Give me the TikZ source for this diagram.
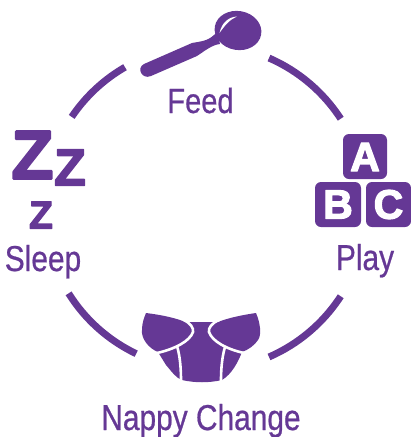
\documentclass[tikz,border=0pt]{standalone}
\usepackage{fontspec}
\setmainfont{Liberation Sans}
\newfontfamily\labelfont[FakeStretch=0.83,FakeBold=0.6]{Liberation Sans}
\newfontfamily\iconfont[FakeBold=3]{Liberation Sans Bold}
\usetikzlibrary{positioning}
\definecolor{nappypurple}{HTML}{653895}
\tikzset{
  steplabel/.style={font=\labelfont\fontsize{36}{36}\selectfont, text=nappypurple, anchor=base, inner sep=0pt},
  ringarc/.style={draw=nappypurple, line width=7pt},
  blockbox/.style={fill=nappypurple, rounded corners=6pt},
  blockletter/.style={text=white, inner sep=0pt, font=\iconfont\fontsize{41}{41}\selectfont},
  sleepletter/.style={text=nappypurple, inner sep=0pt},
  nappyseam/.style={draw=white, line width=2.6pt}
}
\newcommand{\roundglyph}[1]{\special{pdf:code 1 j}#1}
\begin{document}
\begin{tikzpicture}[x=1pt, y=-1pt]
\useasboundingbox (0,0) rectangle (411,437);
% ring
\coordinate (ringcentre) at (204,207.5);
\coordinate (leftcentre) at (206,207.5);
\foreach \from/\to in {-66.5/-33, 33/66.5}
  \draw[ringarc] (ringcentre) ++(\from:163) arc[start angle=\from, end angle=\to, radius=163];
\foreach \from/\to in {115.5/148, 214/240}
  \draw[ringarc] (leftcentre) ++(\from:162) arc[start angle=\from, end angle=\to, radius=162];
% spoon
\fill[nappypurple] (144,64) -- (192,43) .. controls (203,41) and (209,41) .. (217,32)
  -- (220,44) .. controls (212,45) and (206,50) .. (197,56) -- (151,76)
  .. controls (142,80) and (136,68) .. (144,64) -- cycle;
\fill[nappypurple, rotate around={-10:(238,30.5)}] (238,30.5) ellipse [x radius=23.5, y radius=19.5];
\fill[white] (219.5,33) .. controls (222,22) and (229,17) .. (237,16.5)
  .. controls (230,19.5) and (225,25) .. (219.5,33) -- cycle;
\node[steplabel, font=\labelfont\fontsize{35}{35}\selectfont] (feed) at (200.5,113) {Feed};
% sleep
\node[sleepletter, font=\iconfont\fontsize{69}{69}\selectfont] (bigz) at (32.5,155) {\roundglyph{Z}};
\node[sleepletter, font=\iconfont\fontsize{52}{52}\selectfont] (midz) at (70,167.5) {\roundglyph{Z}};
\node[sleepletter, font=\iconfont\fontsize{39}{39}\selectfont] (smallz) at (41,215) {\roundglyph{Z}};
\node[steplabel] (sleep) at (43,271) {Sleep};
% blocks
\fill[blockbox] (343,134) rectangle (387,179);
\fill[blockbox] (315,182) rectangle (361,227);
\fill[blockbox] (366,182) rectangle (411,227);
\node[blockletter] (lettera) at (365,157) {\roundglyph{A}};
\node[blockletter] (letterb) at (338,204.5) {\roundglyph{B}};
\node[blockletter] (letterc) at (388.5,204.5) {\roundglyph{C}};
\node[steplabel] (play) at (365,270) {Play};
% nappy
\fill[nappypurple] (146,313) .. controls (162,315) and (176,318) .. (185,322)
  -- (218,322) .. controls (228,318) and (242,315) .. (256,313)
  .. controls (260,322) and (262,335) .. (258,340) .. controls (255,345) and (248,350) .. (242,352)
  .. controls (238,362) and (232,374) .. (222,380) .. controls (209,383) and (195,383) .. (182,380)
  .. controls (176,378) and (172,372) .. (166,365) -- (158,352)
  .. controls (148,348) and (141,338) .. (142,330) .. controls (142,323) and (144,318) .. (146,313) -- cycle;
\draw[nappyseam] (184,320) .. controls (190,323) and (194,328) .. (193,332)
  .. controls (190,341) and (175,349) .. (157,353);
\draw[nappyseam] (219,320) .. controls (212,323) and (208,328) .. (209,332)
  .. controls (212,341) and (226,349) .. (244,353);
\draw[nappyseam] (177,346) .. controls (180,356) and (181,368) .. (181,381);
\draw[nappyseam] (225,347) .. controls (222,357) and (221,369) .. (221,381);
\node[steplabel, font=\labelfont\fontsize{36}{36}\selectfont] (change) at (201,430) {Nappy Change};
\end{tikzpicture}
\end{document}
